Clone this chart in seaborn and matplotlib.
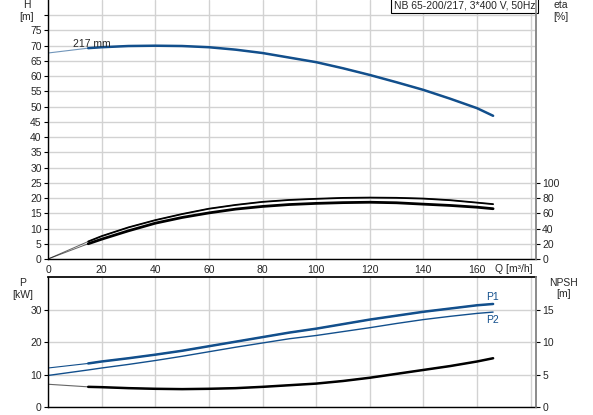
import matplotlib
matplotlib.use("Agg")
import matplotlib.pyplot as plt
import seaborn as sns
import pandas as pd

OUTPUT_FILE = "out.png"

# Flow rate points [m3/h]
q = [0, 15, 20, 30, 40, 50, 60, 70, 80, 90, 100, 110, 120, 130, 140, 150, 160, 166]
# Head [m]
head = [67.6, 69.2, 69.5, 69.9, 70.0, 69.9, 69.5, 68.7, 67.6, 66.1, 64.6, 62.6,
        60.4, 58.0, 55.5, 52.6, 49.5, 47.0]
# Efficiencies [%]
eta_upper = [0, 23, 30, 41.5, 51, 59, 66, 71, 75, 77.5, 79, 80.2, 80.6, 80.3,
             79.3, 77.2, 74, 72]
eta_lower = [0, 20, 26, 37, 47, 54.5, 60.5, 65.5, 69, 71.5, 73, 74, 74.5, 73.8,
             72, 70.3, 68, 66]
# Power P1 / P2 [kW]
p1 = [12.0, 13.4, 14.0, 15.0, 16.1, 17.3, 18.7, 20.1, 21.5, 22.9, 24.1, 25.5,
      26.9, 28.1, 29.3, 30.3, 31.3, 31.7]
p2 = [9.7, 11.4, 12.0, 13.1, 14.3, 15.6, 17.0, 18.4, 19.7, 21.0, 22.0, 23.2,
      24.4, 25.7, 26.9, 27.9, 28.8, 29.2]
# NPSH [m]
npsh = [3.5, 3.1, 3.05, 2.9, 2.8, 2.75, 2.8, 2.9, 3.1, 3.35, 3.6, 4.0, 4.5,
        5.1, 5.7, 6.3, 7.0, 7.5]

x_ticks = [0, 20, 40, 60, 80, 100, 120, 140, 160, 180]
x_tick_labels = ["0", "20", "40", "60", "80", "100", "120", "140", "160", ""]

df = pd.DataFrame({"Q": q, "H": head, "eta1": eta_upper, "eta2": eta_lower,
                   "P1": p1, "P2": p2, "NPSH": npsh})
df_main = df[df["Q"] >= 15]

sns.set_theme(style="whitegrid")
plt.rcParams["font.family"] = ["Liberation Sans", "DejaVu Sans"]
plt.rcParams["font.size"] = 7.5

BLUE = "#124f8c"
GRID = "#d2d2d2"
W, Hpx = 593, 415

fig = plt.figure(figsize=(W / 100, Hpx / 100), dpi=100)
ax_h = fig.add_axes([48 / W, 1 - 259 / Hpx, 488 / W, 259 / Hpx])
ax_e = ax_h.twinx()
ax_p = fig.add_axes([48 / W, 1 - 407 / Hpx, 488 / W, 130 / Hpx])
ax_n = ax_p.twinx()


def style_axes(ax, top_spine):
    ax.set_facecolor("white")
    ax.grid(True, color=GRID, lw=1.0)
    for side in ["left", "bottom"]:
        ax.spines[side].set_color("black")
        ax.spines[side].set_linewidth(1.0)
    ax.spines["right"].set_color("#8a8a8a")
    ax.spines["right"].set_linewidth(1.2)
    ax.spines["top"].set_visible(top_spine)
    ax.spines["top"].set_color("black")
    ax.tick_params(axis="both", which="both", direction="out", length=3,
                   width=0.8, color="black", labelsize=7.5, pad=1.5)
    ax.set_xlim(0, 182)
    ax.set_xticks(x_ticks)
    ax.set_xlabel("")
    ax.set_ylabel("")


# ---- top: head and efficiency ----
sns.lineplot(data=df, x="Q", y="H", color=BLUE, lw=0.8, alpha=0.6,
             estimator=None, ax=ax_h)
sns.lineplot(data=df_main, x="Q", y="H", color=BLUE, lw=1.8,
             estimator=None, ax=ax_h)
style_axes(ax_h, top_spine=False)
ax_h.set_ylim(0, 85)
ax_h.set_yticks(range(0, 85, 5))
ax_h.set_yticklabels([str(v) for v in range(0, 80, 5)] + [""])
ax_h.set_xticklabels(x_tick_labels)
ax_h.text(9.3, 70.6, "217 mm", ha="left", va="center", fontsize=7.5)
ax_h.text(0.999, 0.999, "NB 65-200/217, 3*400 V, 50Hz", transform=ax_h.transAxes,
          ha="right", va="top", fontsize=7.5, zorder=10,
          bbox=dict(boxstyle="square,pad=0.25", fc="white", ec="black", lw=0.8))

for col, lw in [("eta1", 1.3), ("eta2", 2.0)]:
    sns.lineplot(data=df, x="Q", y=col, color="black", lw=0.7, alpha=0.6,
                 estimator=None, ax=ax_e)
    sns.lineplot(data=df_main, x="Q", y=col, color="black", lw=lw,
                 estimator=None, ax=ax_e)
ax_e.set_ylim(0, 340)
ax_e.set_yticks([0, 20, 40, 60, 80, 100])
ax_e.grid(False)
ax_e.set_ylabel("")
for s in ["left", "bottom", "top"]:
    ax_e.spines[s].set_visible(False)
ax_e.spines["right"].set_color("#8a8a8a")
ax_e.spines["right"].set_linewidth(1.2)
ax_e.tick_params(axis="y", direction="out", length=3, width=0.8,
                 color="black", labelsize=7.5, pad=1.5)

# ---- bottom: power and NPSH ----
sns.lineplot(data=df, x="Q", y="P1", color=BLUE, lw=0.8, estimator=None, ax=ax_p)
sns.lineplot(data=df_main, x="Q", y="P1", color=BLUE, lw=1.8, estimator=None, ax=ax_p)
sns.lineplot(data=df, x="Q", y="P2", color=BLUE, lw=1.0, estimator=None, ax=ax_p)
style_axes(ax_p, top_spine=True)
ax_p.set_ylim(0, 40)
ax_p.set_yticks([0, 10, 20, 30])
ax_p.set_xticklabels([])
ax_p.text(163.4, 33.7, "P1", color=BLUE, ha="left", va="center", fontsize=7.5)
ax_p.text(163.4, 26.7, "P2", color=BLUE, ha="left", va="center", fontsize=7.5)

sns.lineplot(data=df, x="Q", y="NPSH", color="black", lw=0.8, alpha=0.6,
             estimator=None, ax=ax_n)
sns.lineplot(data=df_main, x="Q", y="NPSH", color="black", lw=1.8,
             estimator=None, ax=ax_n)
ax_n.set_ylim(0, 20)
ax_n.set_yticks([0, 5, 10, 15])
ax_n.grid(False)
ax_n.set_ylabel("")
for s in ["left", "bottom", "top"]:
    ax_n.spines[s].set_visible(False)
ax_n.spines["right"].set_color("#8a8a8a")
ax_n.spines["right"].set_linewidth(1.2)
ax_n.tick_params(axis="y", direction="out", length=3, width=0.8,
                 color="black", labelsize=7.5, pad=1.5)

# axis captions
fig.text(27 / W, 1 - 5 / Hpx, "H", ha="center", va="center", fontsize=7.5)
fig.text(27 / W, 1 - 17 / Hpx, "[m]", ha="center", va="center", fontsize=7.5)
fig.text(561 / W, 1 - 5 / Hpx, "eta", ha="center", va="center", fontsize=7.5)
fig.text(561 / W, 1 - 17 / Hpx, "[%]", ha="center", va="center", fontsize=7.5)
fig.text(23 / W, 1 - 283 / Hpx, "P", ha="center", va="center", fontsize=7.5)
fig.text(23 / W, 1 - 295 / Hpx, "[kW]", ha="center", va="center", fontsize=7.5)
fig.text(564 / W, 1 - 283 / Hpx, "NPSH", ha="center", va="center", fontsize=7.5)
fig.text(564 / W, 1 - 294 / Hpx, "[m]", ha="center", va="center", fontsize=7.5)
fig.text(533 / W, 1 - 269 / Hpx, "Q [m\u00b3/h]", ha="right", va="center", fontsize=7.5)

fig.savefig(OUTPUT_FILE, dpi=100)
plt.close(fig)
